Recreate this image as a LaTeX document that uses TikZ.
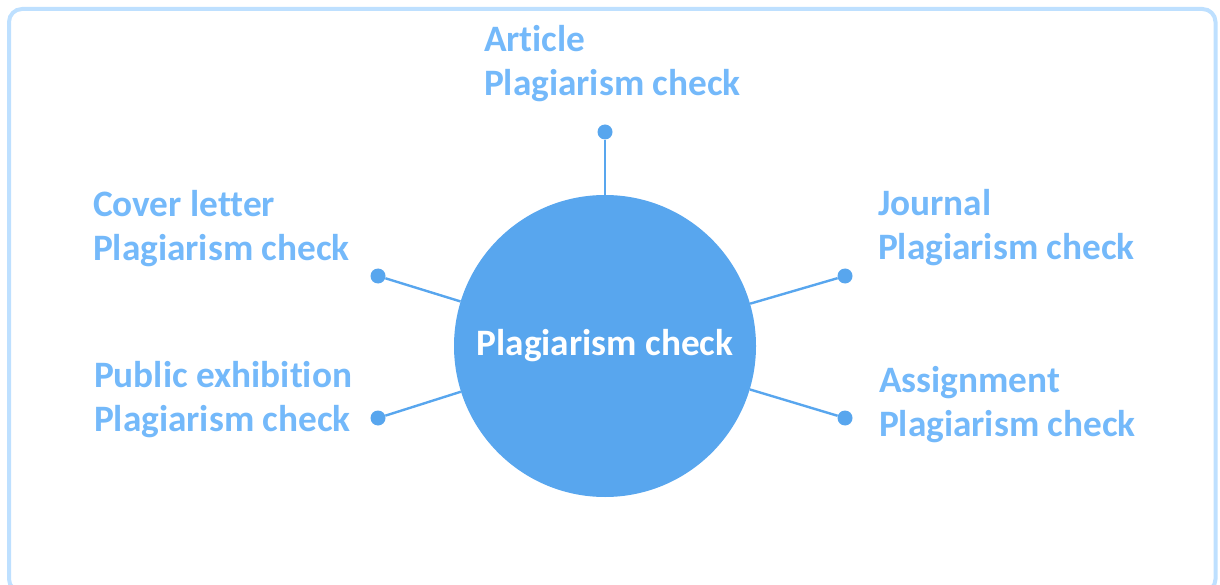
\documentclass[tikz,border=0pt]{standalone}
\usepackage{fontspec}
\setmainfont{Carlito}[Ligatures={NoCommon}]
\begin{document}
\begin{tikzpicture}[x=1pt,y=-1pt,
  label/.style={inner sep=0pt,outer sep=0pt,anchor=base west,align=left,
    text=labelblue,font=\fontsize{37.3}{44}\selectfont\bfseries},
  dot/.style={circle,fill=hub,inner sep=0pt,minimum size=15pt},
  spoke/.style={draw=hub,line width=2.4pt}]
\definecolor{hub}{RGB}{88,166,238}
\definecolor{labelblue}{RGB}{116,185,250}
\definecolor{framecol}{RGB}{190,224,255}
\useasboundingbox (0,0) rectangle (1220,585);
% outer frame
\draw[framecol,line width=4pt,rounded corners=13pt] (9,9) rectangle (1215.5,592);
% central hub
\node[circle,fill=hub,inner sep=0pt,minimum size=302pt,text=white,
  font=\fontsize{37.3}{44}\selectfont\bfseries] (hub) at (605,346) {Plagiarism check};
% end dots
\node[dot] (dtop) at (605,132) {};
\node[dot] (dlu) at (378,276) {};
\node[dot] (dll) at (378,418) {};
\node[dot] (dru) at (845,276) {};
\node[dot] (drl) at (845,418) {};
% spokes
\draw[spoke] (dtop) -- (hub);
\draw[spoke] (dlu) -- (hub);
\draw[spoke] (dll) -- (hub);
\draw[spoke] (dru) -- (hub);
\draw[spoke] (drl) -- (hub);
% labels (anchored at the baseline of the second line)
\node[label] (tArticle) at (484,96) {Article\\Plagiarism check};
\node[label] (tCover) at (93,261) {Cover letter\\Plagiarism check};
\node[label] (tJournal) at (878,260) {Journal\\Plagiarism check};
\node[label] (tPublic) at (94,431) {Public exhibition\\Plagiarism check};
\node[label] (tAssign) at (879,436) {Assignment\\Plagiarism check};
\end{tikzpicture}
\end{document}
